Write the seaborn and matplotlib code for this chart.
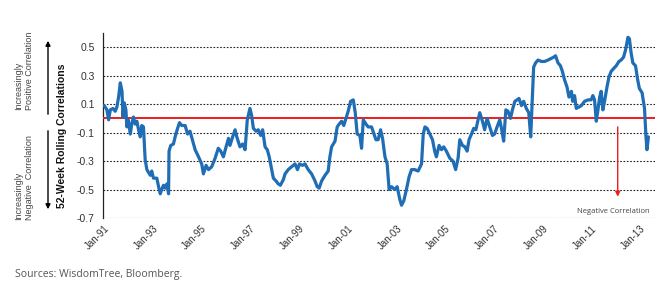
import numpy as np
import pandas as pd
import seaborn as sns
from matplotlib import pyplot as plt
from matplotlib.patches import FancyArrowPatch

# decimal year / 52-week rolling correlation
years = [
    1991.00, 1991.11, 1991.18, 1991.25, 1991.36, 1991.45, 1991.52, 1991.59, 1991.66, 1991.73,
    1991.77, 1991.82, 1991.89, 1991.93, 1991.99, 1992.07, 1992.13, 1992.20, 1992.27, 1992.34,
    1992.41, 1992.48, 1992.54, 1992.61, 1992.68, 1992.75, 1992.89, 1992.95, 1993.02, 1993.16,
    1993.23, 1993.30, 1993.36, 1993.43, 1993.50, 1993.57, 1993.64, 1993.66, 1993.73, 1993.84,
    1993.91, 1994.01, 1994.09, 1994.18, 1994.32, 1994.42, 1994.52,
    1994.73, 1994.87, 1995.00, 1995.07, 1995.18, 1995.28, 1995.41, 1995.55, 1995.68, 1995.78,
    1995.89, 1996.00, 1996.10, 1996.16, 1996.27, 1996.37, 1996.44, 1996.57, 1996.68, 1996.78,
    1996.87, 1996.98, 1997.05, 1997.12, 1997.23, 1997.32, 1997.42, 1997.50, 1997.60, 1997.69,
    1997.77, 1997.87, 1997.94, 1998.05, 1998.14, 1998.23,
    1998.35, 1998.42, 1998.55, 1998.69, 1998.83, 1998.93, 1999.01, 1999.14, 1999.24, 1999.37,
    1999.51, 1999.65, 1999.74, 1999.82, 1999.92, 2000.06, 2000.19, 2000.26, 2000.33, 2000.47,
    2000.56, 2000.64, 2000.74, 2000.83, 2000.92, 2001.01, 2001.11, 2001.22, 2001.30, 2001.38,
    2001.49, 2001.56, 2001.63, 2001.74, 2001.83, 2001.97,
    2002.15, 2002.24, 2002.34, 2002.42, 2002.52, 2002.61, 2002.69, 2002.79, 2002.92, 2003.02,
    2003.13, 2003.20, 2003.29, 2003.40, 2003.51, 2003.61, 2003.74, 2003.88, 2004.02, 2004.09,
    2004.16, 2004.25, 2004.36, 2004.47, 2004.56, 2004.63, 2004.74, 2004.84, 2004.93, 2005.04,
    2005.18, 2005.31, 2005.42, 2005.52,
    2005.59, 2005.70, 2005.80, 2005.89, 2005.97, 2006.07, 2006.16, 2006.25, 2006.34, 2006.41,
    2006.52, 2006.61, 2006.71, 2006.82, 2006.93, 2007.02, 2007.12, 2007.23, 2007.30, 2007.39,
    2007.48, 2007.57, 2007.67, 2007.75, 2007.85, 2007.94, 2008.02, 2008.12, 2008.21, 2008.32,
    2008.42, 2008.50, 2008.57, 2008.62, 2008.70, 2008.80, 2008.94, 2009.07, 2009.21,
    2009.44, 2009.52, 2009.62, 2009.72, 2009.80, 2009.89, 2009.99, 2010.07, 2010.17, 2010.22,
    2010.30, 2010.37, 2010.48, 2010.58, 2010.71, 2010.85, 2010.98, 2011.05, 2011.12, 2011.19,
    2011.26, 2011.33, 2011.39, 2011.46, 2011.53, 2011.63, 2011.71, 2011.80, 2011.90, 2012.01,
    2012.12, 2012.21, 2012.31, 2012.39, 2012.49, 2012.55, 2012.62, 2012.69, 2012.80, 2012.89,
    2012.96, 2013.07, 2013.17, 2013.23, 2013.27, 2013.33,
]
corr = [
    0.09, 0.06, -0.01, 0.06, 0.07, 0.05, 0.08, 0.15, 0.25, 0.19,
    0.01, 0.11, 0.06, -0.06, -0.01, -0.11, -0.04, 0.01, -0.04, -0.02,
    -0.08, -0.13, -0.05, -0.06, -0.29, -0.36, -0.40, -0.37, -0.42, -0.42,
    -0.48, -0.53, -0.50, -0.47, -0.49, -0.46, -0.53, -0.23, -0.19, -0.18,
    -0.13, -0.07, -0.03, -0.05, -0.05, -0.11, -0.09,
    -0.22, -0.27, -0.32, -0.39, -0.33, -0.36, -0.34, -0.28, -0.21, -0.23,
    -0.27, -0.20, -0.14, -0.19, -0.13, -0.08, -0.13, -0.20, -0.18, -0.22,
    -0.01, 0.07, 0.02, -0.07, -0.09, -0.08, -0.12, -0.08, -0.20, -0.22,
    -0.27, -0.36, -0.42, -0.44, -0.46, -0.47,
    -0.43, -0.39, -0.36, -0.34, -0.32, -0.36, -0.32, -0.33, -0.32, -0.36,
    -0.39, -0.44, -0.48, -0.49, -0.44, -0.40, -0.37, -0.27, -0.20, -0.16,
    -0.06, -0.04, -0.02, -0.05, 0.00, 0.05, 0.12, 0.13, 0.04, -0.11,
    -0.12, -0.21, -0.01, -0.04, -0.06, -0.06,
    -0.15, -0.15, -0.08, -0.14, -0.27, -0.32, -0.50, -0.48, -0.50, -0.48,
    -0.57, -0.61, -0.58, -0.50, -0.41, -0.36, -0.36, -0.37, -0.32, -0.11,
    -0.06, -0.07, -0.11, -0.15, -0.23, -0.27, -0.19, -0.22, -0.20, -0.23,
    -0.28, -0.30, -0.36, -0.28,
    -0.15, -0.19, -0.20, -0.23, -0.15, -0.11, -0.07, -0.08, -0.01, 0.04,
    -0.02, -0.08, 0.00, -0.06, -0.12, -0.11, -0.06, -0.01, -0.07, -0.16,
    0.06, 0.05, 0.00, 0.06, 0.12, 0.13, 0.14, 0.09, 0.12, 0.07,
    0.04, -0.13, 0.15, 0.36, 0.39, 0.41, 0.40, 0.40, 0.41,
    0.43, 0.44, 0.39, 0.37, 0.33, 0.27, 0.22, 0.15, 0.19, 0.12,
    0.16, 0.07, 0.08, 0.09, 0.12, 0.13, 0.13, 0.16, 0.13, -0.02,
    0.06, 0.15, 0.19, 0.06, 0.12, 0.22, 0.29, 0.33, 0.35, 0.37,
    0.40, 0.41, 0.43, 0.48, 0.57, 0.56, 0.46, 0.39, 0.37, 0.27,
    0.21, 0.18, 0.07, -0.13, -0.22, -0.13,
]

xtick_pos = [1991, 1993, 1995, 1997, 1999, 2001, 2003, 2005, 2007, 2009, 2011, 2013]
xtick_labels = ["Jan-91", "Jan-93", "Jan-95", "Jan-97", "Jan-99", "Jan-01",
                "Jan-03", "Jan-05", "Jan-07", "Jan-09", "Jan-11", "Jan-13"]
ytick_pos = [-0.7, -0.5, -0.3, -0.1, 0.1, 0.3, 0.5]
ytick_labels = ["-0.7", "-0.5", "-0.3", "-0.1", "0.1", "0.3", "0.5"]

df = pd.DataFrame({"year": years, "corr": corr})

sns.set_style("white")
plt.rcParams["font.family"] = ["Liberation Sans", "DejaVu Sans"]

W, H = 670, 285
fig = plt.figure(figsize=(W / 100, H / 100), dpi=100)
ax = fig.add_axes([103 / W, 1 - 218 / H, (655 - 103) / W, (218 - 33) / H])

for y in ytick_pos:
    ax.axhline(y, color="#222222", lw=0.8, ls=(0, (1.5, 1.5)), zorder=1)
ax.axhline(0, color="#ee1c1c", lw=1.4, zorder=3)

sns.lineplot(data=df, x="year", y="corr", ax=ax, color="#1f6db5", lw=2.3, zorder=4)

ax.set_xlim(1990.95, 2013.6)
ax.set_ylim(-0.7, 0.6)
ax.set_xticks(xtick_pos)
ax.set_xticklabels(xtick_labels, rotation=45, ha="right", rotation_mode="anchor", fontsize=7, color="#333333")
ax.set_yticks(ytick_pos)
ax.set_yticklabels(ytick_labels, fontsize=7.5, color="#333333")
ax.tick_params(axis="x", length=0, pad=4)
ax.tick_params(axis="y", length=4, width=0.8, color="#222222", pad=2)
ax.set_xlabel("")
ax.set_ylabel("")
for s in ["top", "right", "bottom"]:
    ax.spines[s].set_visible(False)
ax.spines["left"].set_color("#222222")
ax.spines["left"].set_linewidth(0.9)

# negative correlation arrow
ax.annotate("", xy=(2012.07, -0.57), xytext=(2012.07, -0.04),
            arrowprops=dict(arrowstyle="-|>", color="#ee1c1c", lw=1.0, mutation_scale=7))
ax.text(2011.9, -0.655, "Negative Correlation", fontsize=5.5, color="#444444", ha="center", va="center",
        family=["Open Sans", "DejaVu Sans"])


def fx(x):
    return x / W


def fy(y):
    return 1 - y / H


fig.text(fx(62), fy(136), "52-Week Rolling Correlations", rotation=90, fontsize=7.5, fontweight="bold",
         ha="center", va="center", color="#111111")
fig.text(fx(24), fy(110), "Increasingly\nPositive Correlation", rotation=90, fontsize=6.5,
         ha="center", va="bottom", multialignment="left", color="#444444", linespacing=1.3)
fig.text(fx(24), fy(220), "Increasingly\nNegative  Correlation", rotation=90, fontsize=6.5,
         ha="center", va="bottom", multialignment="left", color="#444444", linespacing=1.3)
fig.patches.append(FancyArrowPatch((fx(48), fy(117)), (fx(48), fy(38)), transform=fig.transFigure,
                                   arrowstyle="-|>", mutation_scale=7, color="black", lw=1.0))
fig.patches.append(FancyArrowPatch((fx(48), fy(128)), (fx(48), fy(212)), transform=fig.transFigure,
                                   arrowstyle="-|>", mutation_scale=7, color="black", lw=1.0))

fig.text(fx(15), fy(274), "Sources: WisdomTree, Bloomberg.", fontsize=7.5, color="#555555",
         ha="left", va="center", family=["Open Sans", "DejaVu Sans"])

fig.savefig("out.png", dpi=100)
